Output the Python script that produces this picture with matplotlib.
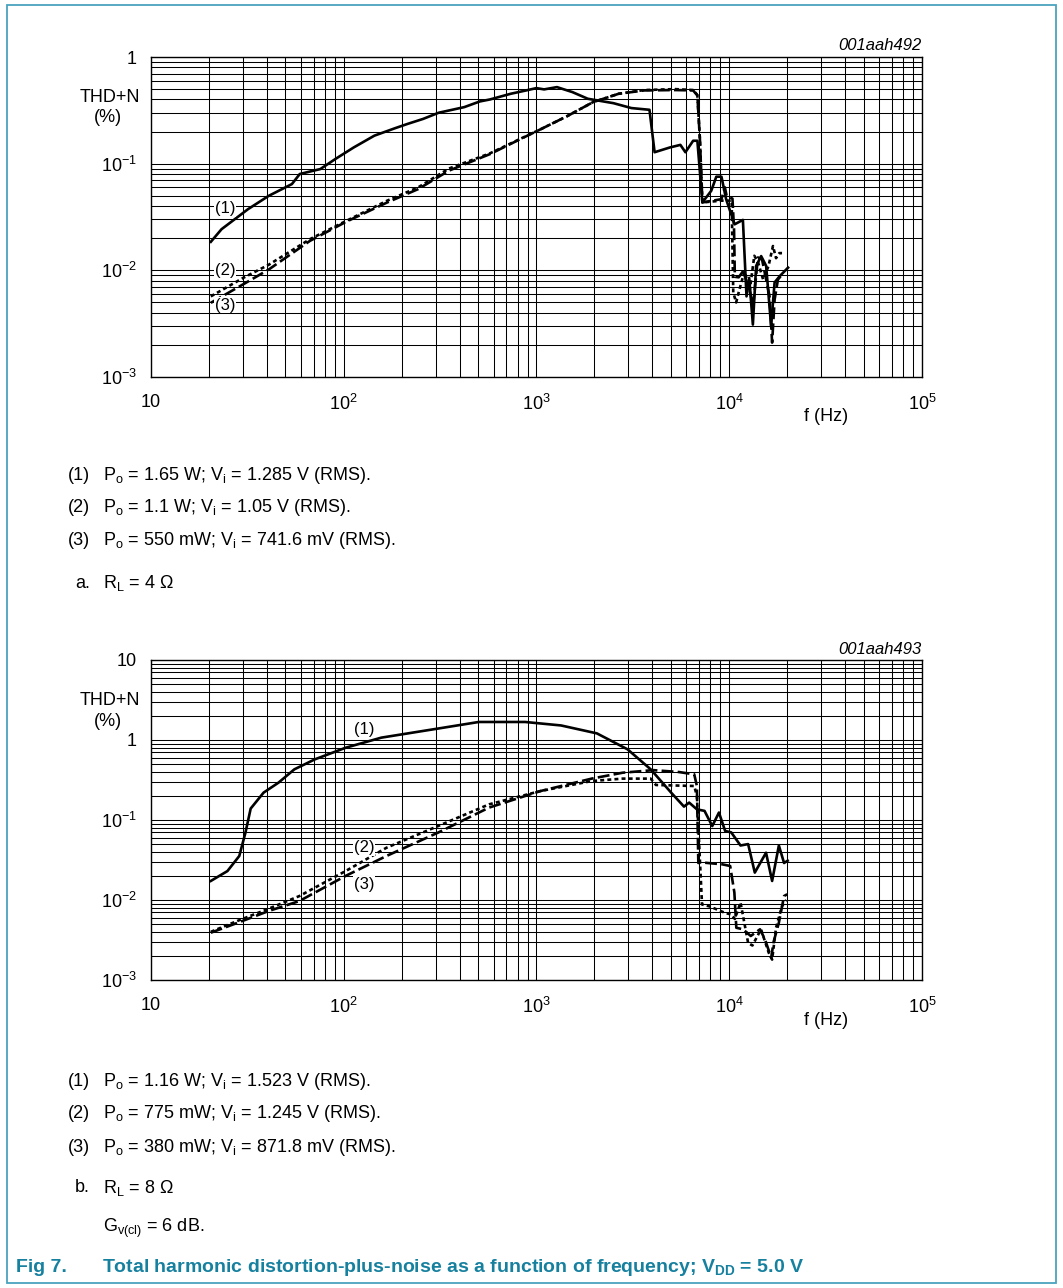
import numpy as np
import matplotlib
matplotlib.use("Agg")
import matplotlib.pyplot as plt
from matplotlib.patches import Rectangle
from matplotlib.ticker import LogLocator, NullFormatter

# ---- data ----
# (a) RL = 4 ohm
f1_a = [20.5, 23.3, 32, 41, 54, 59.3, 75.8, 91, 113, 144.5, 185, 215, 259, 311, 423, 509, 575, 736,
        885, 1000, 1097, 1279, 1537, 1848, 2512, 3113, 3861, 4104, 4934, 5584, 5930, 6503, 6840, 7262,
        8073, 8576, 9120, 9640, 10670, 11780, 12300, 12700, 13270, 13800, 14650, 15550, 16500, 17200,
        18270, 20200]
thd1_a = [0.0185, 0.0243, 0.0375, 0.05, 0.0644, 0.08, 0.089, 0.111, 0.142, 0.183, 0.215, 0.236, 0.263,
          0.3, 0.339, 0.383, 0.4, 0.452, 0.486, 0.511, 0.497, 0.522, 0.469, 0.406, 0.369, 0.332, 0.32,
          0.128, 0.142, 0.15, 0.128, 0.164, 0.164, 0.0433, 0.0557, 0.0755, 0.0755, 0.0465, 0.027, 0.0297,
          0.0057, 0.0085, 0.0031, 0.011, 0.0136, 0.011, 0.003, 0.0077, 0.0088, 0.0106]

f2_a = [20.5, 30.2, 41, 67, 103, 168.5, 244, 352, 575, 832, 1063, 1445, 1965, 2670, 3631, 5250, 6500,
        6840, 7050, 7262, 9120, 10300, 10500, 10870, 11200, 12000, 12800, 13500, 14100, 15000, 16000,
        16870, 17500, 18200, 18800]
thd2_a = [0.0057, 0.0085, 0.0113, 0.0196, 0.029, 0.045, 0.06, 0.09, 0.125, 0.172, 0.212, 0.279, 0.377,
          0.452, 0.49, 0.5, 0.49, 0.44, 0.17, 0.0433, 0.045, 0.045, 0.0062, 0.005, 0.0062, 0.0098, 0.0066,
          0.0137, 0.012, 0.0082, 0.011, 0.0169, 0.013, 0.0145, 0.0145]

f3_a = [20.5, 30.2, 41, 67, 103, 168.5, 244, 352, 575, 832, 1063, 1445, 1965, 2670, 3631, 5250, 6500,
        6840, 7050, 7262, 9120, 9500, 9700, 10400, 10600, 10700, 11200, 11800, 12750, 13300, 14100,
        14800, 16200, 16700, 17200, 17900, 18500]
thd3_a = [0.00496, 0.0074, 0.0102, 0.0189, 0.0285, 0.0433, 0.0578, 0.086, 0.123, 0.171, 0.212, 0.279,
          0.377, 0.452, 0.486, 0.49, 0.486, 0.436, 0.17, 0.0433, 0.0465, 0.06, 0.05, 0.047, 0.024, 0.0087,
          0.0086, 0.0098, 0.0066, 0.0046, 0.0132, 0.0127, 0.0057, 0.0021, 0.0053, 0.0082, 0.0088]

# (b) RL = 8 ohm
f1_b = [20.5, 25, 28.8, 31, 33, 38.5, 46, 55.6, 71, 102.5, 157, 309, 503, 874, 1343, 2060, 2973, 3917,
        5000, 5830, 6200, 6800, 7450, 8170, 8850, 9530, 10250, 11450, 12540, 13580, 15530, 16700, 18100,
        19260, 20100]
thd1_b = [0.0173, 0.023, 0.0355, 0.0695, 0.139, 0.22, 0.293, 0.43, 0.573, 0.8, 1.07, 1.39, 1.68, 1.68,
          1.52, 1.21, 0.764, 0.43, 0.22, 0.147, 0.165, 0.136, 0.13, 0.084, 0.124, 0.073, 0.07, 0.048, 0.05,
          0.022, 0.039, 0.0173, 0.048, 0.029, 0.031]

f2_b = [20.5, 28.3, 41, 59, 102.5, 167, 309, 569, 1050, 1936, 2800, 3917, 4170, 6590, 6800, 7230, 7930,
        9530, 10200, 10700, 11450, 12540, 13200, 14620, 16030, 16700, 17500, 18800, 19800]
thd2_b = [0.004, 0.0055, 0.0078, 0.0112, 0.023, 0.045, 0.084, 0.157, 0.23, 0.307, 0.329, 0.329, 0.274,
          0.266, 0.2, 0.0088, 0.0083, 0.0069, 0.0066, 0.0058, 0.0093, 0.0029, 0.0027, 0.0043, 0.0022,
          0.0018, 0.0045, 0.0084, 0.01]

f3_b = [20.5, 28.3, 41, 59, 102.5, 167, 309, 569, 1050, 1936, 2800, 4036, 5480, 6590, 6800, 6920, 7080,
        9230, 10120, 10640, 10890, 11800, 12940, 14450, 15350, 16520, 17000, 18100, 19260, 20000]
thd3_b = [0.0039, 0.0052, 0.0073, 0.0097, 0.02, 0.0355, 0.0695, 0.143, 0.23, 0.329, 0.39, 0.42, 0.398,
          0.372, 0.266, 0.029, 0.0296, 0.0279, 0.0266, 0.0124, 0.0045, 0.0043, 0.00355, 0.0043, 0.0032,
          0.0019, 0.003, 0.0052, 0.0112, 0.0118]

x_ticks = [10, 1e2, 1e3, 1e4, 1e5]
x_labels = ["10", r"$10^{2}$", r"$10^{3}$", r"$10^{4}$", r"$10^{5}$"]
y_ticks_a = [1e-3, 1e-2, 1e-1, 1]
y_labels_a = [r"$10^{-3}$", r"$10^{-2}$", r"$10^{-1}$", "1"]
y_ticks_b = [1e-3, 1e-2, 1e-1, 1, 10]
y_labels_b = [r"$10^{-3}$", r"$10^{-2}$", r"$10^{-1}$", "1", "10"]

legend_a = [r"$\mathrm{P_o}$ = 1.65 W; $\mathrm{V_i}$ = 1.285 V (RMS).",
            r"$\mathrm{P_o}$ = 1.1 W; $\mathrm{V_i}$ = 1.05 V (RMS).",
            r"$\mathrm{P_o}$ = 550 mW; $\mathrm{V_i}$ = 741.6 mV (RMS)."]
legend_b = [r"$\mathrm{P_o}$ = 1.16 W; $\mathrm{V_i}$ = 1.523 V (RMS).",
            r"$\mathrm{P_o}$ = 775 mW; $\mathrm{V_i}$ = 1.245 V (RMS).",
            r"$\mathrm{P_o}$ = 380 mW; $\mathrm{V_i}$ = 871.8 mV (RMS)."]

plt.rcParams["font.family"] = ["Liberation Sans", "DejaVu Sans"]
plt.rcParams["mathtext.fontset"] = "custom"
plt.rcParams["mathtext.rm"] = "Liberation Sans"
plt.rcParams["mathtext.it"] = "Liberation Sans:italic"
plt.rcParams["mathtext.bf"] = "Liberation Sans:bold"

W, H = 1063, 1288
FS = 13
TEAL = "#16809f"


def fx(x):
    return x / W


def fy(y):
    return 1 - y / H


fig = plt.figure(figsize=(W / 100, H / 100), dpi=100)

solid = dict(color="black", lw=1.9, ls="-")
dotted = dict(color="black", lw=1.9, ls=(0, (1.5, 1.2)))
dashed = dict(color="black", lw=1.9, ls=(0, (4.5, 1.6)))


def setup(ax, ylo, yhi, yt, yl):
    ax.set_xscale("log")
    ax.set_yscale("log")
    ax.set_xlim(10, 1e5)
    ax.set_ylim(ylo, yhi)
    ax.set_xticks(x_ticks, x_labels)
    ax.set_yticks(yt, yl)
    ax.xaxis.set_minor_locator(LogLocator(base=10, subs=np.arange(2, 10), numticks=20))
    ax.yaxis.set_minor_locator(LogLocator(base=10, subs=np.arange(2, 10), numticks=20))
    ax.xaxis.set_minor_formatter(NullFormatter())
    ax.yaxis.set_minor_formatter(NullFormatter())
    ax.grid(which="both", color="black", lw=0.75)
    ax.set_axisbelow(True)
    ax.tick_params(which="both", length=0, labelsize=FS)
    ax.tick_params(axis="x", pad=12)
    ax.tick_params(axis="y", pad=10)
    for s in ax.spines.values():
        s.set_linewidth(1.0)


def label(ax, x, y, s):
    ax.text(x, y, s, ha="center", va="center", fontsize=FS - 1,
            bbox=dict(fc="white", ec="none", pad=0.5), zorder=5)


# top chart (a)
ax1 = fig.add_axes([fx(150.7), fy(377), fx(922) - fx(150.7), 320 / H])
setup(ax1, 1e-3, 1, y_ticks_a, y_labels_a)
ax1.plot(f1_a, thd1_a, **solid)
ax1.plot(f2_a, thd2_a, **dotted)
ax1.plot(f3_a, thd3_a, **dashed)
label(ax1, 24.3, 0.038, "(1)")
label(ax1, 24.3, 0.0100, "(2)")
label(ax1, 24.3, 0.0047, "(3)")

# bottom chart (b)
ax2 = fig.add_axes([fx(150.7), fy(980), fx(922) - fx(150.7), 320 / H])
setup(ax2, 1e-3, 10, y_ticks_b, y_labels_b)
ax2.plot(f1_b, thd1_b, **solid)
ax2.plot(f2_b, thd2_b, **dotted)
ax2.plot(f3_b, thd3_b, **dashed)
label(ax2, 128, 1.36, "(1)")
label(ax2, 128, 0.045, "(2)")
label(ax2, 128, 0.0158, "(3)")

# labels around the charts
for dy, code in [(0, "001aah492"), (603.4, "001aah493")]:
    fig.text(fx(922), fy(46 + dy), code, ha="right", va="center", style="italic", fontsize=FS - 1)
    fig.text(fx(140), fy(97 + dy), "THD+N", ha="right", va="center", fontsize=FS)
    fig.text(fx(108), fy(118 + dy), "(%)", ha="center", va="center", fontsize=FS)
    fig.text(fx(826), fy(417 + dy), "f (Hz)", ha="center", va="center", fontsize=FS)

# conditions text
for rows, y0 in [(legend_a, 475), (legend_b, 1081)]:
    for i, s in enumerate(rows):
        fig.text(fx(68), fy(y0 + 33 * i), "(%d)" % (i + 1), ha="left", va="center", fontsize=FS)
        fig.text(fx(103), fy(y0 + 33 * i), s, ha="left", va="center", fontsize=FS)

fig.text(fx(75), fy(583), "a.", ha="left", va="center", fontsize=FS)
fig.text(fx(103), fy(583), r"$\mathrm{R_L}$ = 4 Ω", ha="left", va="center", fontsize=FS)
fig.text(fx(75), fy(1188), "b.", ha="left", va="center", fontsize=FS)
fig.text(fx(103), fy(1188), r"$\mathrm{R_L}$ = 8 Ω", ha="left", va="center", fontsize=FS)
fig.text(fx(103), fy(1228), r"$\mathrm{G_{v(cl)}}$ = 6 dB.", ha="left", va="center", fontsize=FS)

fig.text(fx(16), fy(1267), "Fig 7.", ha="left", va="center", fontsize=FS + 1,
         fontweight="bold", color=TEAL)
fig.text(fx(102), fy(1267), r"Total harmonic distortion-plus-noise as a function of frequency; $\mathbf{V_{DD}}$ = 5.0 V",
         ha="left", va="center", fontsize=FS + 1, fontweight="bold", color=TEAL)

# frame round the figure
fig.patches.append(Rectangle((fx(7), fy(1283)), fx(1056) - fx(7), fy(5) - fy(1283),
                             transform=fig.transFigure, fill=False, ec="#4aa3bf", lw=1.3))

fig.savefig("out.png", dpi=100)
